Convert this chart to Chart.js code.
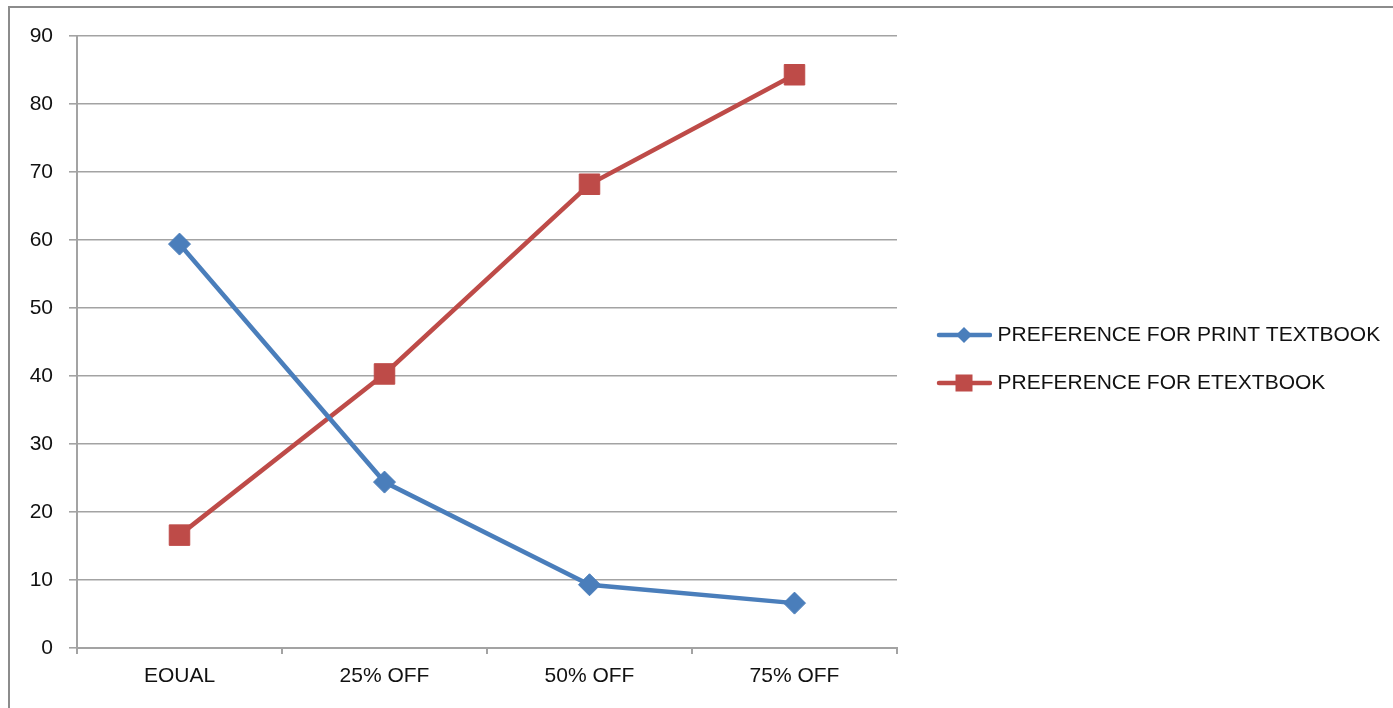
<!DOCTYPE html>
<html>
<head>
<meta charset="utf-8">
<title>Print vs eTextbook preference</title>
<script src="https://cdn.jsdelivr.net/npm/chart.js@4.4.1/dist/chart.umd.min.js"></script>
<style>
  html, body { margin: 0; padding: 0; background: #fff; overflow: hidden; }
  #wrap { width: 1393px; height: 708px; }
</style>
</head>
<body>
<div id="wrap"><canvas id="c" width="1393" height="708"></canvas></div>
<script>
// Price scenarios and the share preferring each format
const categories = ['EQUAL', '25% OFF', '50% OFF', '75% OFF'];
const printTextbook = [59.4, 24.4, 9.3, 6.6];
const eTextbook = [16.6, 40.3, 68.2, 84.3];
const seriesNames = ['PREFERENCE FOR PRINT TEXTBOOK', 'PREFERENCE FOR ETEXTBOOK'];
const yMin = 0, yMax = 90, yStep = 10;

const BLUE = '#4a7ebb';
const RED = '#be4b48';
const GRID = '#a3a3a3';
const TEXT = '#111111';
const FONT = "'Liberation Sans', Arial, sans-serif";
const FONT_SIZE = 21;

// Legend sample: short line with the series marker in the middle
function legendSwatch(color, shape) {
  const c = document.createElement('canvas');
  c.width = 73; c.height = 20;
  const g = c.getContext('2d');
  g.strokeStyle = color;
  g.lineWidth = 4.5;
  g.lineCap = 'round';
  g.beginPath(); g.moveTo(20, 10); g.lineTo(71, 10); g.stroke();
  g.fillStyle = color;
  const cx = 45, cy = 10;
  if (shape === 'diamond') {
    g.beginPath();
    g.moveTo(cx - 8, cy); g.lineTo(cx, cy - 8); g.lineTo(cx + 8, cy); g.lineTo(cx, cy + 8);
    g.closePath(); g.fill();
  } else {
    g.fillRect(cx - 8.5, cy - 8.5, 17, 17);
  }
  return c;
}
const swatches = [legendSwatch(BLUE, 'diamond'), legendSwatch(RED, 'square')];

// Legend geometry: plot ends at x=897, legend column follows it
const LEG_PAD = 27, LEG_BOX = 63;
const measure = document.createElement('canvas').getContext('2d');
measure.font = FONT_SIZE + 'px ' + FONT;
const legendTextW = Math.max(...seriesNames.map(s => measure.measureText(s).width));
const legendW = LEG_PAD + LEG_BOX + FONT_SIZE / 2 + legendTextW + 10;
const padRight = Math.max(0, 1393 - 897 - legendW);

// Outer chart frame
const framePlugin = {
  id: 'frame',
  beforeDraw(chart) {
    const g = chart.ctx;
    g.save();
    g.fillStyle = '#fff';
    g.fillRect(0, 0, chart.width, chart.height);
    g.strokeStyle = '#8c8c8c';
    g.lineWidth = 2;
    g.strokeRect(9, 7, chart.width + 40, chart.height + 40);
    g.restore();
  }
};

new Chart(document.getElementById('c'), {
  type: 'line',
  data: {
    labels: categories,
    datasets: [
      {
        label: seriesNames[0],
        data: printTextbook,
        borderColor: BLUE,
        backgroundColor: BLUE,
        borderWidth: 4.5,
        tension: 0,
        pointStyle: 'rectRot',
        pointRadius: 11,
        pointBorderWidth: 1,
        pointBackgroundColor: BLUE,
        pointBorderColor: BLUE,
        pointHoverRadius: 11
      },
      {
        label: seriesNames[1],
        data: eTextbook,
        borderColor: RED,
        backgroundColor: RED,
        borderWidth: 4.5,
        tension: 0,
        pointStyle: 'rect',
        pointRadius: 14.5,
        pointBorderWidth: 1,
        pointBackgroundColor: RED,
        pointBorderColor: RED,
        pointHoverRadius: 14.5
      }
    ]
  },
  options: {
    responsive: false,
    animation: false,
    devicePixelRatio: 1,
    clip: false,
    events: [],
    layout: { padding: { left: 27, top: 36, right: padRight, bottom: 26 } },
    plugins: {
      tooltip: { enabled: false },
      legend: {
        position: 'right',
        align: 'center',
        maxWidth: 800,
        labels: {
          usePointStyle: true,
          pointStyleWidth: LEG_BOX,
          padding: LEG_PAD,
          color: TEXT,
          font: { family: FONT, size: FONT_SIZE },
          generateLabels(chart) {
            const items = Chart.defaults.plugins.legend.labels.generateLabels(chart);
            items.forEach((it, i) => { it.pointStyle = swatches[i]; });
            return items;
          }
        }
      }
    },
    scales: {
      x: {
        type: 'category',
        offset: true,
        afterFit(s) { s.height = 34; },
        grid: {
          offset: true,
          drawOnChartArea: false,
          drawTicks: true,
          tickLength: 6,
          color: GRID,
          lineWidth: 2
        },
        border: { color: GRID, width: 2 },
        ticks: {
          color: TEXT,
          font: { family: FONT, size: FONT_SIZE },
          padding: 10,
          maxRotation: 0,
          autoSkip: false
        }
      },
      y: {
        min: yMin,
        max: yMax,
        afterFit(s) { s.width = 50; },
        grid: {
          color: GRID,
          lineWidth: 1.6,
          drawTicks: true,
          tickLength: 8
        },
        border: { color: GRID, width: 2 },
        ticks: {
          stepSize: yStep,
          color: TEXT,
          font: { family: FONT, size: FONT_SIZE },
          padding: 16
        }
      }
    }
  },
  plugins: [framePlugin]
});
</script>
</body>
</html>
